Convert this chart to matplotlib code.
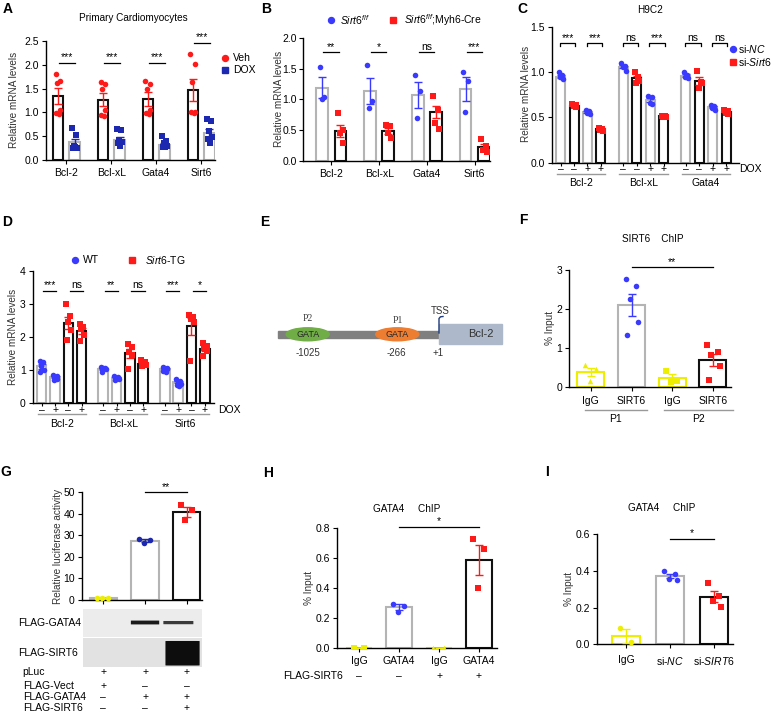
import numpy as np
import matplotlib
matplotlib.use('Agg')
import matplotlib.pyplot as plt
from matplotlib.patches import Rectangle, Ellipse, FancyBboxPatch
from matplotlib.lines import Line2D
from matplotlib.ticker import FormatStrFormatter

plt.rcParams['font.family'] = ['Liberation Sans', 'DejaVu Sans']
plt.rcParams['mathtext.fontset'] = 'custom'
plt.rcParams['mathtext.rm'] = 'Liberation Sans'
plt.rcParams['mathtext.it'] = 'Liberation Sans:italic'
plt.rcParams['font.size'] = 7
plt.rcParams['axes.linewidth'] = 1.0

W, H = 781, 714
RED = '#ff1a1a'
BLUE = '#3a3aff'
NAVY = '#1c28b0'
GRAY = '#b4b4b4'
YEL = '#eeee00'
BLACK = '#111111'

# ---------------- data ----------------
# A  primary cardiomyocytes
a_genes = ['Bcl-2', 'Bcl-xL', 'Gata4', 'Sirt6']
a_veh_mean = [1.34, 1.27, 1.28, 1.48]
a_veh_sem = [0.17, 0.14, 0.14, 0.23]
a_veh_pts = [[1.81, 1.66, 1.62, 1.05, 0.98, 0.97],
             [1.63, 1.59, 1.50, 1.05, 0.95, 0.93],
             [1.67, 1.60, 1.50, 1.05, 0.98, 0.96],
             [2.23, 2.01, 1.63, 1.01, 1.00, 0.99]]
a_dox_mean = [0.37, 0.42, 0.32, 0.57]
a_dox_sem = [0.07, 0.06, 0.04, 0.08]
a_dox_pts = [[0.68, 0.52, 0.30, 0.26, 0.25, 0.27],
             [0.66, 0.62, 0.42, 0.38, 0.35, 0.30],
             [0.50, 0.40, 0.35, 0.30, 0.28, 0.27],
             [0.86, 0.81, 0.60, 0.49, 0.44, 0.35]]
a_sig = ['***', '***', '***', '***']
a_sig_y = [2.04, 2.04, 2.04, 2.46]

# B  Sirt6 f/f vs Myh6-Cre
b_genes = ['Bcl-2', 'Bcl-xL', 'Gata4', 'Sirt6']
b_ff_mean = [1.19, 1.13, 1.07, 1.17]
b_ff_sem = [0.17, 0.21, 0.21, 0.19]
b_ff_pts = [[1.53, 1.04, 1.01], [1.55, 0.98, 0.86], [1.39, 1.13, 0.70], [1.45, 1.30, 0.79]]
b_cre_mean = [0.49, 0.48, 0.80, 0.22]
b_cre_sem = [0.10, 0.05, 0.10, 0.05]
b_cre_pts = [[0.78, 0.50, 0.45, 0.30], [0.58, 0.57, 0.45, 0.37],
             [1.06, 0.82, 0.62, 0.52], [0.35, 0.25, 0.18, 0.15]]
b_sig = ['**', '*', 'ns', '***']

# C  H9C2, order per gene: si-NC -, si-Sirt6 -, si-NC +, si-Sirt6 +
c_genes = ['Bcl-2', 'Bcl-xL', 'Gata4']
c_dox = ['–', '–', '+', '+']
c_mean = [[0.95, 0.63, 0.56, 0.37],
          [1.06, 0.93, 0.69, 0.51],
          [0.96, 0.90, 0.61, 0.56]]
c_sem = [[0.02, 0.01, 0.01, 0.01],
         [0.02, 0.03, 0.02, 0.01],
         [0.02, 0.04, 0.01, 0.01]]
c_pts = [[[1.00, 0.97, 0.94, 0.92], [0.65, 0.64, 0.62, 0.61], [0.58, 0.57, 0.55, 0.54], [0.38, 0.37, 0.36, 0.35]],
         [[1.10, 1.07, 1.05, 1.01], [1.00, 0.94, 0.88, 0.90], [0.74, 0.72, 0.66, 0.65], [0.52, 0.51, 0.50, 0.50]],
         [[1.00, 0.97, 0.95, 0.93], [1.01, 0.89, 0.82, 0.88], [0.64, 0.62, 0.60, 0.58], [0.58, 0.57, 0.55, 0.54]]]
c_sig = ['***', '***', 'ns', '***', 'ns', 'ns']

# D  WT vs Sirt6-TG, order per gene: WT -, WT +, TG -, TG +
d_genes = ['Bcl-2', 'Bcl-xL', 'Sirt6']
d_dox = ['–', '+', '–', '+']
d_mean = [[1.10, 0.77, 2.42, 2.18],
          [1.03, 0.75, 1.50, 1.18],
          [1.03, 0.62, 2.32, 1.63]]
d_sem = [[0.07, 0.03, 0.19, 0.08],
         [0.03, 0.02, 0.14, 0.04],
         [0.02, 0.03, 0.25, 0.07]]
d_pts = [[[1.27, 1.23, 1.10, 1.00, 0.93], [0.85, 0.80, 0.76, 0.72, 0.70], [3.00, 2.62, 2.45, 2.22, 1.90], [2.38, 2.30, 2.25, 2.05, 1.88]],
         [[1.08, 1.06, 1.04, 1.02, 0.92], [0.82, 0.78, 0.75, 0.72, 0.70], [1.78, 1.70, 1.55, 1.45, 1.02], [1.30, 1.25, 1.20, 1.15, 1.12]],
         [[1.08, 1.06, 1.04, 1.02, 0.97, 0.93], [0.72, 0.66, 0.62, 0.58, 0.55, 0.52], [2.66, 2.60, 2.55, 2.45, 1.27], [1.82, 1.72, 1.65, 1.58, 1.42]]]
d_sig = ['***', 'ns', '**', 'ns', '***', '*']

# F  SIRT6 ChIP
f_labels = ['IgG', 'SIRT6', 'IgG', 'SIRT6']
f_mean = [0.38, 2.11, 0.22, 0.69]
f_sem = [0.11, 0.28, 0.10, 0.16]
f_pts = [[0.55, 0.45, 0.15], [2.78, 2.58, 2.25, 1.66, 1.32], [0.40, 0.15, 0.12], [1.07, 0.90, 0.82, 0.52, 0.16]]

# G  luciferase
g_mean = [1.0, 27.5, 41.0]
g_sem = [0.1, 0.6, 2.3]
g_pts = [[1.0, 1.0, 1.0], [28.5, 27.8, 26.5], [44.0, 42.0, 37.0]]
g_rows = ['pLuc', 'FLAG-Vect', 'FLAG-GATA4', 'FLAG-SIRT6']
g_table = [['+', '+', '+'], ['+', '–', '–'], ['–', '+', '+'], ['–', '–', '+']]

# H  GATA4 ChIP +/- FLAG-SIRT6
h_labels = ['IgG', 'GATA4', 'IgG', 'GATA4']
h_sirt6 = ['–', '–', '+', '+']
h_mean = [0.0, 0.27, 0.0, 0.59]
h_sem = [0.0, 0.02, 0.0, 0.10]
h_pts = [[0.0, 0.0], [0.29, 0.28, 0.24], [0.0, 0.0], [0.73, 0.66, 0.40]]

# I  GATA4 ChIP si-NC / si-SIRT6
i_labels = ['IgG', 'si-$\\mathit{NC}$', 'si-$\\mathit{SIRT6}$']
i_mean = [0.045, 0.37, 0.26]
i_sem = [0.04, 0.012, 0.03]
i_pts = [[0.088, 0.01], [0.40, 0.385, 0.355, 0.35], [0.335, 0.265, 0.235, 0.205]]

JIT = np.array([-0.22, 0.18, -0.05, 0.25, -0.15, 0.08])
FS = 7.5

fig = plt.figure(figsize=(W / 100, H / 100), dpi=100)


def px_axes(l, t, r, b):
    return fig.add_axes([l / W, 1 - b / H, (r - l) / W, (b - t) / H])


def style(ax):
    for s in ['top', 'right']:
        ax.spines[s].set_visible(False)
    ax.tick_params(length=3, width=0.8, labelsize=FS, pad=2)


def ftext(x, y, s, **kw):
    kw.setdefault('ha', 'center')
    kw.setdefault('va', 'center')
    kw.setdefault('fontsize', FS)
    fig.text(x / W, 1 - y / H, s, **kw)


def ylab(x, y, s):
    ftext(x, y, s, rotation=90, fontsize=7.2, color='#333333')


def plabel(x, y, s):
    ftext(x, y, s, ha='left', fontsize=10, fontweight='bold')


def bar_dots(ax, x, mean, sem, pts, edge, color, marker, width):
    ax.bar(x, mean, width, facecolor='white', edgecolor=edge, linewidth=1.5, zorder=2)
    ax.errorbar(x, mean, yerr=sem, fmt='none', ecolor=color, elinewidth=1,
                capsize=3, capthick=1, zorder=3)
    offs = np.resize(JIT, len(pts)) * width
    ax.scatter(x + offs, pts, s=16, c=color, marker=marker, zorder=4, linewidths=0)


def sig(ax, x0, x1, y, label, tick=0.0):
    ax.plot([x0, x0, x1, x1], [y - tick, y, y, y - tick], color='k', lw=0.9, clip_on=False)
    ax.annotate(label, ((x0 + x1) / 2, y), xytext=(0, 0.3), textcoords='offset points',
                ha='center', va='bottom', fontsize=FS, annotation_clip=False)


def under(ax, x, dy, s, dx=0, ha='center', coords=('data', 'axes fraction')):
    ax.annotate(s, (x, 0), xycoords=coords, xytext=(dx * 0.72, -dy * 0.72),
                textcoords='offset points', ha=ha, va='center', fontsize=FS,
                annotation_clip=False)


def under_line(ax, x0, x1, dy):
    h = ax.get_position().height * H
    ax.plot([x0, x1], [-dy / h] * 2, transform=ax.get_xaxis_transform(),
            color='#999999', lw=1, clip_on=False)


def legend_mark(x, y, marker, color, label, tx):
    fig.add_artist(Line2D([x / W], [1 - y / H], marker=marker, color=color, ms=4.3,
                          ls='none', transform=fig.transFigure))
    ftext(tx, y, label, ha='left')


# ---------------- A ----------------
ax = px_axes(46, 41, 215, 160)
style(ax)
for i in range(4):
    bar_dots(ax, i - 0.186, a_veh_mean[i], a_veh_sem[i], a_veh_pts[i], BLACK, RED, 'o', 0.23)
    bar_dots(ax, i + 0.186, a_dox_mean[i], a_dox_sem[i], a_dox_pts[i], GRAY, NAVY, 's', 0.23)
    sig(ax, i - 0.16, i + 0.2, a_sig_y[i], a_sig[i])
ax.set_xlim(-0.45, 3.31)
ax.set_ylim(0, 2.5)
ax.set_yticks(np.arange(0, 2.51, 0.5))
ax.yaxis.set_major_formatter(FormatStrFormatter('%.1f'))
ax.set_xticks(range(4))
ax.set_xticklabels(a_genes)
ax.tick_params(axis='x', pad=3)
ftext(133, 18, 'Primary Cardiomyocytes', fontsize=7.2)
ylab(14, 100, 'Relative mRNA levels')
legend_mark(225, 58, 'o', RED, 'Veh', 233)
legend_mark(225, 70, 's', NAVY, 'DOX', 233)
plabel(3, 9, 'A')

# ---------------- B ----------------
ax = px_axes(302.7, 37.7, 490, 161)
style(ax)
for i in range(4):
    bar_dots(ax, i - 0.19, b_ff_mean[i], b_ff_sem[i], b_ff_pts[i], GRAY, BLUE, 'o', 0.245)
    bar_dots(ax, i + 0.19, b_cre_mean[i], b_cre_sem[i], b_cre_pts[i], BLACK, RED, 's', 0.245)
    sig(ax, i - 0.17, i + 0.15, 1.76, b_sig[i])
ax.set_xlim(-0.60, 3.32)
ax.set_ylim(0, 2.0)
ax.set_yticks(np.arange(0, 2.01, 0.5))
ax.yaxis.set_major_formatter(FormatStrFormatter('%.1f'))
ax.set_xticks(range(4))
ax.set_xticklabels(b_genes)
ax.tick_params(axis='x', pad=3)
ax.tick_params(axis='y', pad=1)
ylab(279, 99, 'Relative mRNA levels')
legend_mark(331, 20, 'o', BLUE, '$\\mathit{Sirt6}^{\\mathit{f/f}}$', 340)
legend_mark(393, 20, 's', RED, '$\\mathit{Sirt6}^{\\mathit{f/f}}$;Myh6-Cre', 404)
plabel(261, 9, 'B')

# ---------------- C ----------------
ax = px_axes(551.7, 26.7, 739, 162.7)
style(ax)
c_edges = [GRAY, BLACK, GRAY, BLACK]
c_cols = [BLUE, RED, BLUE, RED]
c_marks = ['o', 's', 'o', 's']
pos = []
for g in range(3):
    base = g * 4.67
    for k in range(4):
        x = base + k
        pos.append(x)
        bar_dots(ax, x, c_mean[g][k], c_sem[g][k], c_pts[g][k], c_edges[k], c_cols[k], c_marks[k], 0.66)
        under(ax, x, 6.5, c_dox[k])
    sig(ax, base - 0.05, base + 1.1, 1.32, c_sig[2 * g], tick=0.035)
    sig(ax, base + 1.95, base + 3.1, 1.32, c_sig[2 * g + 1], tick=0.035)
    under_line(ax, base - 0.3, base + 3.3, 11.5)
    under(ax, base + 1.5, 20, c_genes[g])
under(ax, 1.0, 6.5, 'DOX', ha='left', coords='axes fraction')
ax.set_xlim(-0.67, 13.3)
ax.set_ylim(0, 1.5)
ax.set_yticks([0, 0.5, 1.0, 1.5])
ax.yaxis.set_major_formatter(FormatStrFormatter('%.1f'))
ax.set_xticks(pos)
ax.set_xticklabels([])
ax.tick_params(axis='x', length=2)
ftext(650, 10, 'H9C2', fontsize=7.2)
ylab(526, 94, 'Relative mRNA levels')
legend_mark(733, 49, 'o', BLUE, 'si-$\\mathit{NC}$', 738)
legend_mark(733, 62, 's', RED, 'si-$\\mathit{Sirt6}$', 738)
plabel(517, 9, 'C')

# ---------------- D ----------------
ax = px_axes(32.7, 271, 214, 402.7)
style(ax)
d_edges = [GRAY, GRAY, BLACK, BLACK]
d_cols = [BLUE, BLUE, RED, RED]
d_marks = ['o', 'o', 's', 's']
pos = []
for g in range(3):
    base = g * 4.62
    for k in range(4):
        x = base + k
        pos.append(x)
        bar_dots(ax, x, d_mean[g][k], d_sem[g][k], d_pts[g][k], d_edges[k], d_cols[k], d_marks[k], 0.72)
        under(ax, x, 7.3, d_dox[k])
    sig(ax, base + 0.1, base + 1.1, 3.40, d_sig[2 * g])
    sig(ax, base + 2.1, base + 3.1, 3.40, d_sig[2 * g + 1])
    under_line(ax, base - 0.3, base + 3.3, 11.5)
    under(ax, base + 1.5, 21.3, d_genes[g])
under(ax, 1.0, 7.3, 'DOX', dx=4, ha='left', coords='axes fraction')
ax.set_xlim(-0.675, 12.93)
ax.set_ylim(0, 4)
ax.set_yticks(range(5))
ax.set_xticks(pos)
ax.set_xticklabels([])
ax.tick_params(axis='x', length=2)
ylab(13, 337, 'Relative mRNA levels')
legend_mark(75, 260, 'o', BLUE, 'WT', 83)
legend_mark(132, 260, 's', RED, '$\\mathit{Sirt6}$-TG', 145)
plabel(2, 222, 'D')

# ---------------- E (schematic) ----------------
ax = px_axes(260, 200, 530, 460)
ax.set_xlim(260, 530)
ax.set_ylim(460, 200)
ax.axis('off')
ax.add_patch(Rectangle((278, 331), 161, 6.5, color='#7f7f7f', zorder=1))
ax.add_patch(Ellipse((307.7, 334.3), 43, 13, color='#70ad47', zorder=2))
ax.add_patch(Ellipse((397.3, 334.3), 43, 13, color='#ed7d31', zorder=2))
ax.text(307.7, 334.6, 'GATA', ha='center', va='center', fontsize=6.5, color='#262626', zorder=3)
ax.text(397.3, 334.6, 'GATA', ha='center', va='center', fontsize=6.5, color='#262626', zorder=3)
ax.text(307.7, 318, 'P2', ha='center', va='center', fontsize=7, family='Liberation Serif', color='#404040')
ax.text(398, 320.5, 'P1', ha='center', va='center', fontsize=7, family='Liberation Serif', color='#404040')
ax.add_patch(Rectangle((439, 324), 63, 20, color='#adb9ca', zorder=1))
ax.text(480.7, 334.3, 'Bcl-2', ha='center', va='center', fontsize=8, color='#333333')
ax.plot([439, 439, 440.5, 443], [333, 318.5, 316.8, 316.5], color='#1f3a7a', lw=1)
ax.text(440.5, 311, 'TSS', ha='center', va='center', fontsize=7, color='#333333')
ax.text(307.7, 352.7, '-1025', ha='center', va='center', fontsize=7, color='#333333')
ax.text(396.7, 352.7, '-266', ha='center', va='center', fontsize=7, color='#333333')
ax.text(437.7, 353.3, '+1', ha='center', va='center', fontsize=7, color='#333333')
plabel(260, 222, 'E')

# ---------------- F ----------------
ax = px_axes(569.3, 270, 730.7, 386.7)
style(ax)
f_edges = [YEL, GRAY, YEL, BLACK]
f_cols = [YEL, BLUE, YEL, RED]
f_marks = ['^', 'o', 's', 's']
for i in range(4):
    bar_dots(ax, i, f_mean[i], f_sem[i], f_pts[i], f_edges[i], f_cols[i], f_marks[i], 0.66)
sig(ax, 1, 3, 3.07, '**')
ax.set_xlim(-0.53, 3.44)
ax.set_ylim(0, 3)
ax.set_yticks(range(4))
ax.set_xticks(range(4))
ax.set_xticklabels(f_labels)
ax.tick_params(axis='x', pad=4)
under_line(ax, -0.14, 1.38, 23.3)
under_line(ax, 1.81, 3.49, 23.3)
under(ax, 0.6, 32.3, 'P1')
under(ax, 2.65, 32.3, 'P2')
ftext(653, 239, 'SIRT6    ChIP', fontsize=7.2)
ylab(550, 328, '% Input')
plabel(519, 220, 'F')

# ---------------- G ----------------
ax = px_axes(81.7, 492.3, 201.7, 600)
style(ax)
g_edges = [GRAY, GRAY, BLACK]
g_cols = [YEL, NAVY, RED]
g_marks = ['o', 'o', 's']
for i in range(3):
    bar_dots(ax, i, g_mean[i], g_sem[i], g_pts[i], g_edges[i], g_cols[i], g_marks[i], 0.65)
sig(ax, 1, 2, 50, '**')
ax.set_xlim(-0.52, 2.36)
ax.set_ylim(0, 50)
ax.set_yticks(range(0, 51, 10))
ax.set_xticks(range(3))
ax.set_xticklabels([])
for r, row in enumerate(g_table):
    dy = [72.3, 86, 97.3, 108.3][r]
    ftext(22.7, 600 + dy, g_rows[r], ha='left')
    for i in range(3):
        under(ax, i, dy, row[i])
ylab(58, 546, 'Relative luciferase activity')

# western blot strips
bx = px_axes(81.7, 609, 201.7, 666.7)
bx.set_xlim(-0.52, 2.36)
bx.set_ylim(666.7, 609)
bx.axis('off')
bx.add_patch(Rectangle((-0.49, 609), 2.85, 27.7, color='#ececec', lw=0))
bx.add_patch(Rectangle((-0.49, 638.3), 2.85, 28.4, color='#e2e2e2', lw=0))
bx.add_patch(FancyBboxPatch((0.68, 620.6), 0.64, 3.8, boxstyle='round,pad=0.02,rounding_size=0.05',
                            color='#1a1a1a', lw=0))
bx.add_patch(FancyBboxPatch((1.46, 621.0), 0.68, 3.2, boxstyle='round,pad=0.02,rounding_size=0.05',
                            color='#3a3a3a', lw=0))
bx.add_patch(FancyBboxPatch((1.52, 641), 0.76, 24.5, boxstyle='round,pad=0.03,rounding_size=0.12',
                            color='#0d0d0d', lw=0))
ftext(18.3, 623, 'FLAG-GATA4', ha='left')
ftext(18.3, 653, 'FLAG-SIRT6', ha='left')
plabel(0, 472, 'G')

# ---------------- H ----------------
ax = px_axes(337.3, 528.3, 497.3, 647.7)
style(ax)
h_edges = [YEL, GRAY, YEL, BLACK]
h_cols = [YEL, BLUE, YEL, RED]
h_marks = ['s', 'o', '^', 's']
for i in range(4):
    bar_dots(ax, i, h_mean[i], h_sem[i], h_pts[i], h_edges[i], h_cols[i], h_marks[i], 0.65)
sig(ax, 1, 3, 0.81, '*')
ax.set_xlim(-0.55, 3.46)
ax.set_ylim(0, 0.8)
ax.set_yticks([0, 0.2, 0.4, 0.6, 0.8])
ax.yaxis.set_major_formatter(FormatStrFormatter('%.1f'))
ax.set_xticks(range(4))
ax.set_xticklabels(h_labels)
ax.tick_params(axis='x', pad=3)
for i in range(4):
    under(ax, i, 28, h_sirt6[i])
ftext(282.7, 675.7, 'FLAG-SIRT6', ha='left')
ftext(406.7, 509, 'GATA4     ChIP', fontsize=7.2)
ylab(309, 588, '% Input')
plabel(263, 473, 'H')

# ---------------- I ----------------
ax = px_axes(597.3, 534, 733.3, 644.3)
style(ax)
i_edges = [YEL, GRAY, BLACK]
i_cols = [YEL, BLUE, RED]
i_marks = ['o', 'o', 's']
for i in range(3):
    bar_dots(ax, i, i_mean[i], i_sem[i], i_pts[i], i_edges[i], i_cols[i], i_marks[i], 0.63)
sig(ax, 1, 2, 0.575, '*')
ax.set_xlim(-0.65, 2.43)
ax.set_ylim(0, 0.6)
ax.set_yticks([0, 0.2, 0.4, 0.6])
ax.yaxis.set_major_formatter(FormatStrFormatter('%.1f'))
ax.set_xticks(range(3))
ax.set_xticklabels(i_labels)
ax.tick_params(axis='x', pad=5)
ftext(661.7, 508.3, 'GATA4     ChIP', fontsize=7.2)
ylab(569, 589, '% Input')
plabel(545, 472, 'I')

fig.savefig('out.png', dpi=100)
